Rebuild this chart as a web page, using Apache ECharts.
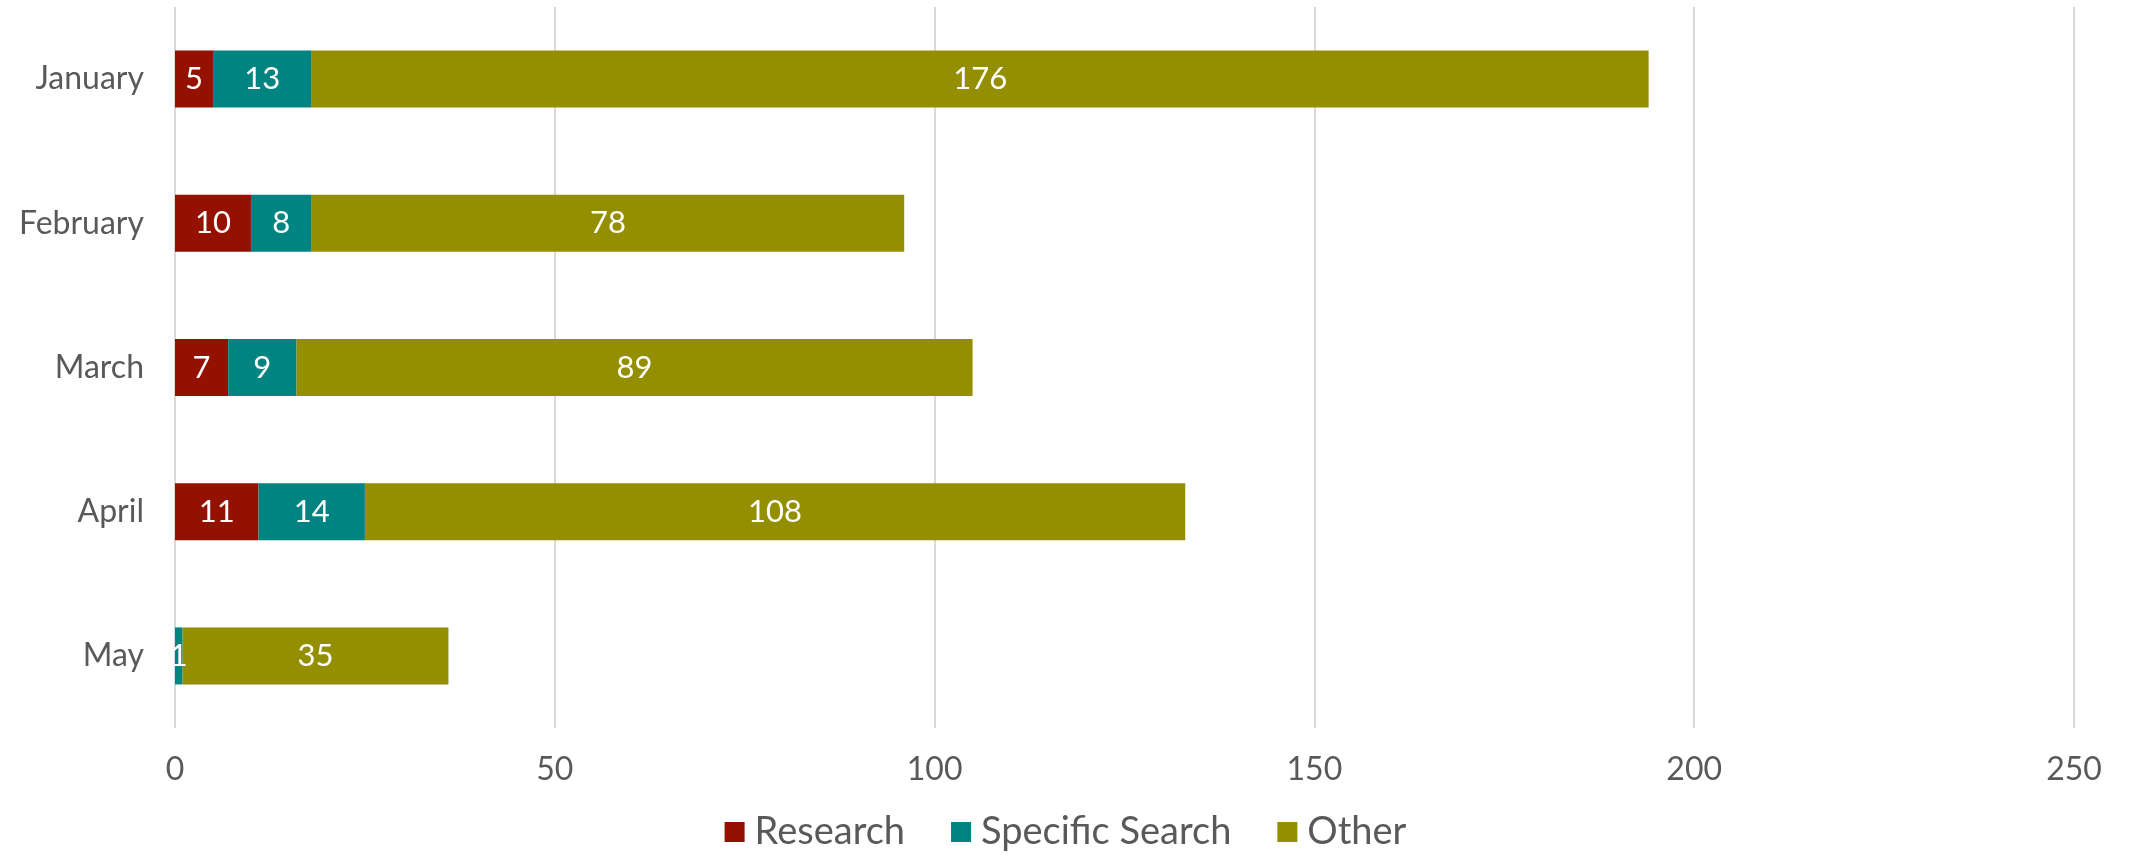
<!DOCTYPE html>
<html>
<head>
<meta charset="utf-8">
<script src="https://cdn.jsdelivr.net/npm/echarts@6/dist/echarts.min.js"></script>
<style>
  html, body { margin: 0; padding: 0; background: #fff; }
  #chart { width: 2131px; height: 856px; }
</style>
</head>
<body>
<div id="chart"></div>
<script>
// Monthly query counts by type
const months = ['January', 'February', 'March', 'April', 'May'];
const research = [5, 10, 7, 11, 0];
const specificSearch = [13, 8, 9, 14, 1];
const other = [176, 78, 89, 108, 35];
const xTicks = { min: 0, max: 250, interval: 50 };

const FONT = 'Lato, "Noto Sans", sans-serif';
const TEXT = '#595959';

function seriesOf(name, data, color) {
  return {
    name: name,
    type: 'bar',
    stack: 'total',
    data: data,
    barWidth: 57,
    itemStyle: { color: color },
    label: {
      show: true,
      position: 'inside',
      color: '#ffffff',
      fontFamily: FONT,
      fontSize: 31,
      formatter: p => (p.value ? String(p.value) : '')
    }
  };
}

const chart = echarts.init(document.getElementById('chart'), null, { renderer: 'canvas' });
chart.setOption({
  animation: false,
  backgroundColor: '#ffffff',
  grid: { left: 175, right: 57, top: 7, bottom: 128, containLabel: false },
  xAxis: {
    type: 'value',
    min: xTicks.min, max: xTicks.max, interval: xTicks.interval,
    axisLine: { show: false },
    axisTick: { show: false },
    splitLine: { show: true, lineStyle: { color: '#d9d9d9', width: 2 } },
    axisLabel: { color: TEXT, fontFamily: FONT, fontSize: 32, margin: 26 }
  },
  yAxis: {
    type: 'category',
    data: months,
    inverse: true,
    axisLine: { show: false },
    axisTick: { show: false },
    axisLabel: { color: TEXT, fontFamily: FONT, fontSize: 32, margin: 31 }
  },
  legend: {
    bottom: 0,
    left: 'center',
    itemWidth: 20,
    itemHeight: 20,
    itemGap: 46,
    icon: 'rect',
    textStyle: { color: TEXT, fontFamily: FONT, fontSize: 38, padding: [0, 0, 0, 5] },
    data: ['Research', 'Specific Search', 'Other']
  },
  series: [
    seriesOf('Research', research, '#941100'),
    seriesOf('Specific Search', specificSearch, '#008482'),
    seriesOf('Other', other, '#948F00')
  ]
});
</script>
</body>
</html>
